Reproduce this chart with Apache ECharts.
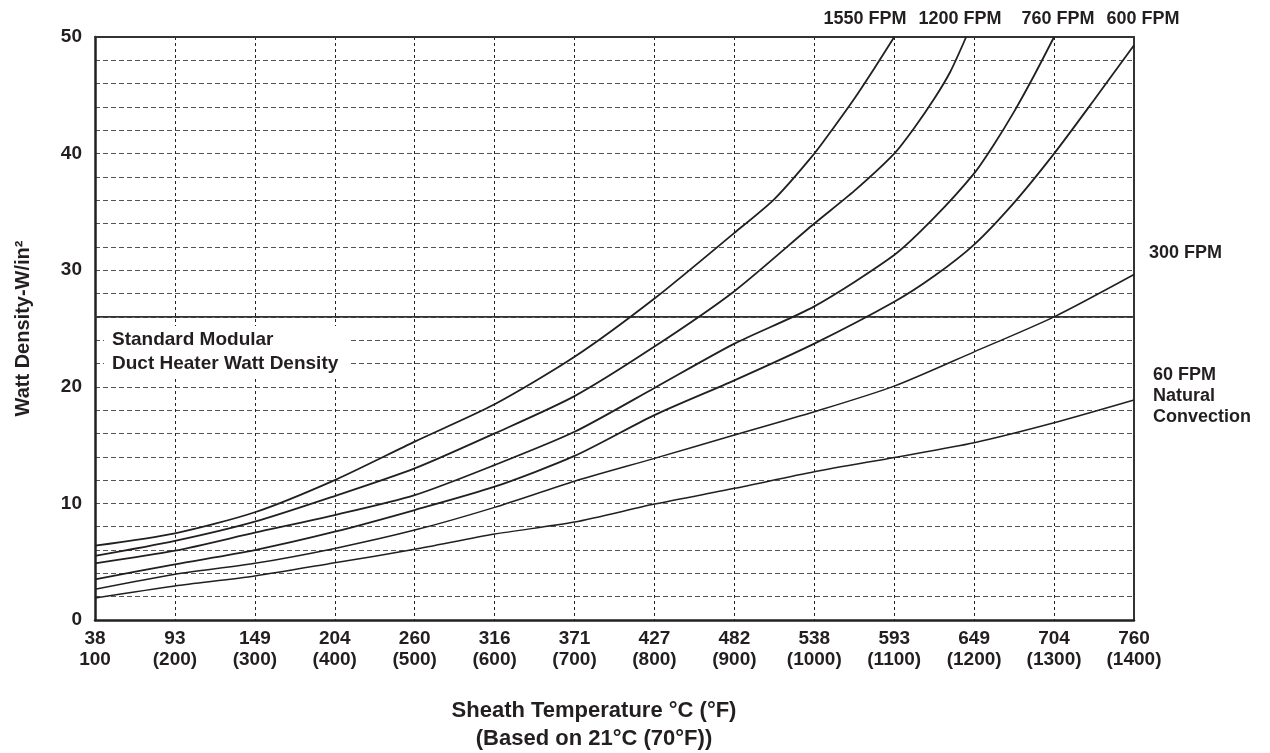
<!DOCTYPE html>
<html>
<head>
<meta charset="utf-8">
<script src="https://cdn.jsdelivr.net/npm/echarts@6/dist/echarts.min.js"></script>
<style>
html,body{margin:0;padding:0;background:#fff;}
#chart{width:1270px;height:753px;}
</style>
</head>
<body>
<div id="chart"></div>
<script>
// Tick labels (x axis: °F ticks with °C equivalents)
var fahrenheitTicks = [100,200,300,400,500,600,700,800,900,1000,1100,1200,1300,1400];
var celsiusLabels = ['38','93','149','204','260','316','371','427','482','538','593','649','704','760'];
var fahrenheitLabels = ['100','(200)','(300)','(400)','(500)','(600)','(700)','(800)','(900)','(1000)','(1100)','(1200)','(1300)','(1400)'];

// Series: [°F, W/in²]
var fpm1550 = [[100,6.37],[200,7.43],[300,9.24],[400,12.0],[500,15.3],[600,18.5],[700,22.57],[800,27.57],[900,33.2],[950,36.1],[1000,40],[1025,42.3],[1050,44.7],[1075,47.3],[1100,50]];
var fpm1200 = [[100,5.49],[200,6.78],[300,8.43],[400,10.63],[500,13.0],[600,16.0],[700,19.2],[800,23.45],[900,28.2],[1000,34.0],[1050,36.8],[1100,40.0],[1125,42.2],[1150,44.7],[1170,47.0],[1190,50]];
var fpm760 = [[100,4.86],[200,5.94],[300,7.49],[400,9.0],[500,10.71],[600,13.29],[700,16.14],[800,19.9],[900,23.7],[1000,26.9],[1100,31.3],[1150,34.5],[1200,38.3],[1225,40.8],[1250,43.6],[1275,46.7],[1300,50]];
var fpm600 = [[100,3.49],[200,4.78],[300,6.0],[400,7.57],[500,9.43],[600,11.43],[700,14.07],[800,17.57],[900,20.55],[1000,23.7],[1100,27.29],[1150,29.5],[1200,32.2],[1250,35.8],[1300,40],[1350,44.6],[1400,49.3]];
var fpm300 = [[100,2.63],[200,3.92],[300,4.86],[400,6.14],[500,7.71],[600,9.66],[700,11.9],[800,13.86],[900,15.86],[1000,17.86],[1100,20.06],[1200,23.0],[1300,26.0],[1400,29.63]];
var fpm60 = [[100,1.89],[200,2.92],[300,3.77],[400,4.91],[500,6.06],[600,7.37],[700,8.4],[800,9.94],[900,11.29],[1000,12.71],[1100,13.94],[1200,15.2],[1300,16.91],[1400,18.86]];
var standardDensity = [[100,26],[1400,26]];

var FONT = "'Liberation Sans', Arial, Helvetica, sans-serif";
var INK = '#231f20';

function curve(name, data, w){
  return {
    name: name, type: 'line', data: data, smooth: 0.25,
    symbol: 'none', xAxisIndex: 0, yAxisIndex: 0,
    lineStyle: {color: INK, width: w}, z: 5, silent: true
  };
}

var chart = echarts.init(document.getElementById('chart'), null, {renderer: 'canvas'});
chart.setOption({
  animation: false,
  backgroundColor: '#fff',
  grid: {left: 95, right: 136, top: 37, bottom: 133, containLabel: false},
  xAxis: [{
    type: 'value', min: 100, max: 1400, interval: 100, position: 'bottom',
    axisLine: {show: true, onZero: false, lineStyle: {color: INK, width: 2.5}},
    axisTick: {show: false},
    splitLine: {show: true, lineStyle: {color: '#222', width: 1, type: [3, 3]}},
    axisLabel: {
      margin: 8, color: INK,
      formatter: function(v){
        var i = fahrenheitTicks.indexOf(v);
        if (i < 0) return '';
        return '{a|' + celsiusLabels[i] + '}\n{a|' + fahrenheitLabels[i] + '}';
      },
      rich: {a: {fontFamily: FONT, fontWeight: 'bold', fontSize: 19, lineHeight: 21, color: INK, align: 'center'}}
    }
  }, {
    type: 'value', min: 100, max: 1400, interval: 100, position: 'top',
    axisLine: {show: true, onZero: false, lineStyle: {color: '#333', width: 2}},
    axisTick: {show: false}, axisLabel: {show: false}, splitLine: {show: false}
  }],
  yAxis: [{
    type: 'value', min: 0, max: 50, interval: 2, position: 'left',
    name: 'Watt Density-W/in²', nameLocation: 'middle', nameGap: 62, nameRotate: 90,
    nameTextStyle: {fontFamily: FONT, fontWeight: 'bold', fontSize: 20, color: INK},
    axisLine: {show: true, onZero: false, lineStyle: {color: INK, width: 2.5}},
    axisTick: {show: false},
    splitLine: {show: true, lineStyle: {color: '#555', width: 1, type: [5, 3]}},
    axisLabel: {
      margin: 13, fontFamily: FONT, fontWeight: 'bold', fontSize: 19, color: INK,
      formatter: function(v){ return (v % 10 === 0) ? String(v) : ''; }
    }
  }, {
    type: 'value', min: 0, max: 50, interval: 2, position: 'right',
    axisLine: {show: true, onZero: false, lineStyle: {color: '#333', width: 2}},
    axisTick: {show: false}, axisLabel: {show: false}, splitLine: {show: false}
  }],
  series: [
    curve('1550 FPM', fpm1550, 1.8),
    curve('1200 FPM', fpm1200, 1.8),
    curve('760 FPM', fpm760, 1.8),
    curve('600 FPM', fpm600, 1.8),
    curve('300 FPM', fpm300, 1.5),
    curve('60 FPM Natural Convection', fpm60, 1.5),
    {
      name: 'Standard Modular Duct Heater Watt Density', type: 'line', data: standardDensity,
      symbol: 'none', smooth: false, lineStyle: {color: '#333', width: 1.6}, z: 4, silent: true
    }
  ],
  graphic: [
    {type: 'text', x: 104, y: 326, z: 10, style: {
      text: 'Standard Modular\nDuct Heater Watt Density', font: 'bold 19px ' + FONT, fill: INK,
      lineHeight: 24, backgroundColor: '#fff', padding: [2, 10, 2, 8]
    }},
    {type: 'text', x: 865, y: 19, style: {text: '1550 FPM', font: 'bold 18px ' + FONT, fill: INK, textAlign: 'center', textVerticalAlign: 'middle'}},
    {type: 'text', x: 960, y: 19, style: {text: '1200 FPM', font: 'bold 18px ' + FONT, fill: INK, textAlign: 'center', textVerticalAlign: 'middle'}},
    {type: 'text', x: 1058, y: 19, style: {text: '760 FPM', font: 'bold 18px ' + FONT, fill: INK, textAlign: 'center', textVerticalAlign: 'middle'}},
    {type: 'text', x: 1143, y: 19, style: {text: '600 FPM', font: 'bold 18px ' + FONT, fill: INK, textAlign: 'center', textVerticalAlign: 'middle'}},
    {type: 'text', x: 1149, y: 253, style: {text: '300 FPM', font: 'bold 18px ' + FONT, fill: INK, textAlign: 'left', textVerticalAlign: 'middle'}},
    {type: 'text', x: 1153, y: 365, style: {text: '60 FPM\nNatural\nConvection', font: 'bold 18px ' + FONT, fill: INK, lineHeight: 21, textAlign: 'left', textVerticalAlign: 'top'}},
    {type: 'text', x: 594, y: 697, style: {text: 'Sheath Temperature °C (°F)\n(Based on 21°C (70°F))', font: 'bold 22px ' + FONT, fill: INK, lineHeight: 28, textAlign: 'center', textVerticalAlign: 'top'}}
  ]
});
</script>
</body>
</html>
